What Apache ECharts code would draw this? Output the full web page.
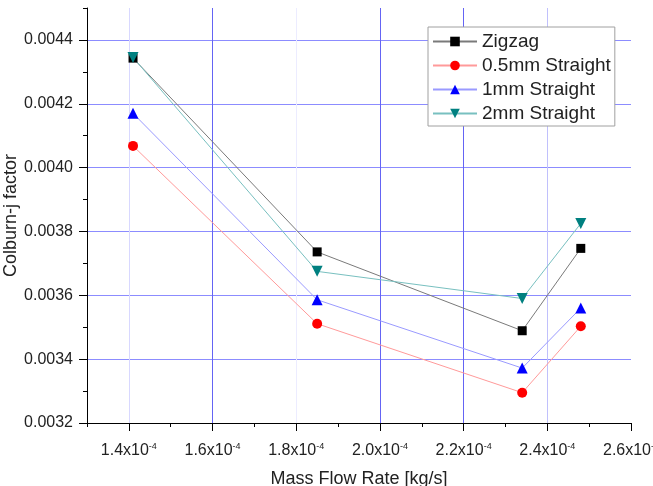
<!DOCTYPE html>
<html>
<head>
<meta charset="utf-8">
<script src="https://cdn.jsdelivr.net/npm/echarts@6/dist/echarts.min.js"></script>
<style>
  html, body { margin: 0; padding: 0; background: #fff; }
  #chart { width: 653px; height: 486px; }
</style>
</head>
<body>
<div id="chart"></div>
<script>
// mass flow rate in units of 1e-4 kg/s
const massFlow = [1.41, 1.85, 2.34, 2.48];
const zigzag = [0.004343, 0.003736, 0.003489, 0.003747];
const straight05 = [0.004068, 0.003511, 0.003295, 0.003503];
const straight1 = [0.004170, 0.003586, 0.003372, 0.003560];
const straight2 = [0.004345, 0.003675, 0.003590, 0.003825];
const seriesNames = ['Zigzag', '0.5mm Straight', '1mm Straight', '2mm Straight'];

const FONT = 'Liberation Sans, Arial, sans-serif';
const NONE = 'rgba(0,0,0,0)';
const HLINE = '#8c8cff';
const VSTRONG = '#6464f4';

function pairs(ys) {
  return massFlow.map((x, i) => [x, ys[i]]);
}

function lineSeries(name, ys, symbol, size, color, lineColor, rotate) {
  return {
    name: name,
    type: 'line',
    data: pairs(ys),
    symbol: symbol,
    symbolSize: size,
    symbolRotate: rotate || 0,
    showAllSymbol: true,
    itemStyle: { color: color },
    lineStyle: { color: lineColor, width: 1 },
    emphasis: { disabled: true },
    animation: false
  };
}

const chart = echarts.init(document.getElementById('chart'));

chart.setOption({
  backgroundColor: '#fff',
  grid: { left: 87, right: 22, top: 8, bottom: 63, containLabel: false, outerBoundsMode: 'none' },
  legend: {
    orient: 'vertical',
    left: 428,
    top: 27,
    padding: [5, 4, 3, 4],
    itemGap: 5,
    itemWidth: 44,
    itemHeight: 12,
    backgroundColor: '#fff',
    borderColor: '#a0a0a0',
    borderWidth: 1,
    textStyle: { fontFamily: FONT, fontSize: 19, color: '#222' },
    data: seriesNames
  },
  xAxis: [
    {
      // minor ticks and grid lines
      type: 'value', position: 'bottom',
      min: 1.3, max: 2.6, interval: 0.1,
      axisLine: { show: true, lineStyle: { color: '#000', width: 1 } },
      axisTick: { show: true, length: 4, lineStyle: { color: '#000' } },
      axisLabel: { show: false },
      splitLine: {
        show: true, showMinLine: true, showMaxLine: true,
        lineStyle: {
          width: 1,
          color: [NONE, '#d8d8ff', NONE, VSTRONG, NONE, '#ececff', NONE,
                  VSTRONG, NONE, VSTRONG, NONE, '#c0c0fc', NONE, NONE]
        }
      },
      name: 'Mass Flow Rate [kg/s]',
      nameLocation: 'middle',
      nameGap: 47,
      nameTextStyle: { fontFamily: FONT, fontSize: 18, color: '#222' }
    },
    {
      // major ticks and labels
      type: 'value', position: 'bottom',
      min: 1.3, max: 2.6, splitNumber: 6,
      axisLine: { show: false },
      axisTick: { show: true, length: 8, lineStyle: { color: '#000' } },
      splitLine: { show: false },
      axisLabel: {
        showMinLabel: false,
        margin: 19,
        formatter: v => '{a|' + v.toFixed(1) + 'x10}{b|-4}',
        rich: {
          a: { fontFamily: FONT, fontSize: 16, color: '#222', lineHeight: 18 },
          b: { fontFamily: FONT, fontSize: 9, color: '#222', verticalAlign: 'top', lineHeight: 18 }
        }
      }
    }
  ],
  yAxis: [
    {
      type: 'value', position: 'left',
      min: 0.0032, max: 0.0045, interval: 0.0001,
      axisLine: { show: true, lineStyle: { color: '#000', width: 1 } },
      axisTick: { show: true, length: 4, lineStyle: { color: '#000' } },
      axisLabel: { show: false },
      splitLine: {
        show: true, showMinLine: true, showMaxLine: true,
        lineStyle: {
          width: 1,
          color: [NONE, NONE, HLINE, NONE, HLINE, NONE, HLINE, NONE,
                  HLINE, NONE, HLINE, NONE, HLINE, NONE]
        }
      },
      name: 'Colburn-j factor',
      nameLocation: 'middle',
      nameGap: 67,
      nameTextStyle: { fontFamily: FONT, fontSize: 18, color: '#222' }
    },
    {
      type: 'value', position: 'left',
      min: 0.0032, max: 0.0045, interval: 0.0002,
      axisLine: { show: false },
      axisTick: { show: true, length: 8, lineStyle: { color: '#000' } },
      splitLine: { show: false },
      axisLabel: {
        showMaxLabel: false,
        margin: 14,
        fontFamily: FONT, fontSize: 16, color: '#222',
        formatter: v => v.toFixed(4)
      }
    }
  ],
  series: [
    lineSeries(seriesNames[0], zigzag, 'rect', 9, '#000000', '#7a7a7a'),
    lineSeries(seriesNames[1], straight05, 'circle', 10, '#ff0000', '#ff9a9a'),
    lineSeries(seriesNames[2], straight1, 'triangle', 11, '#0000ff', '#9a9aff'),
    lineSeries(seriesNames[3], straight2, 'triangle', 11, '#008080', '#78c0c0', 180)
  ]
});
</script>
</body>
</html>
